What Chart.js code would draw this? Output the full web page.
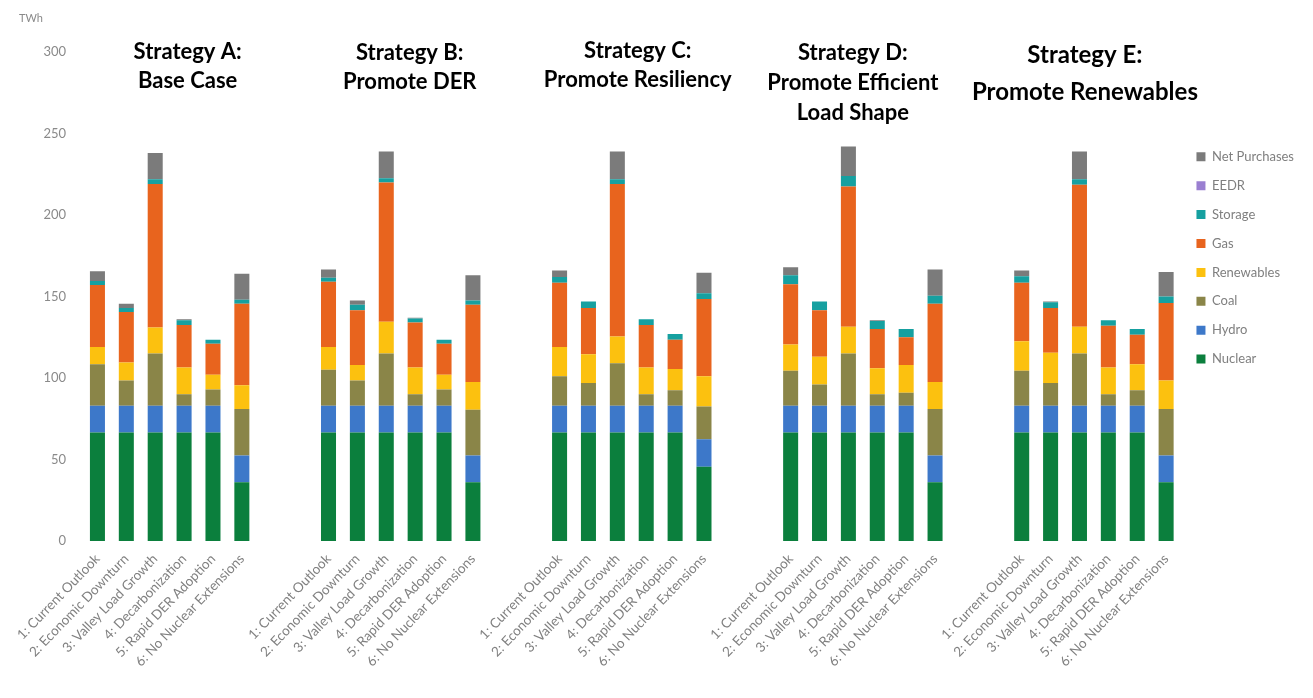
<!DOCTYPE html>
<html>
<head>
<meta charset="utf-8">
<script src="https://cdn.jsdelivr.net/npm/chart.js@4.4.1/dist/chart.umd.min.js"></script>
<style>
    html, body { margin: 0; padding: 0; background: #fff; }
    #wrap { position: relative; width: 1313px; height: 698px; }
</style>
</head>
<body>
<div id="wrap"><canvas id="genChart"></canvas></div>
<script>
// scenarios shown under every strategy
const scenarios = [
    '1: Current Outlook',
    '2: Economic Downturn',
    '3: Valley Load Growth',
    '4: Decarbonization',
    '5: Rapid DER Adoption',
    '6: No Nuclear Extensions'
];

const strategies = [
    ['Strategy A:', 'Base Case'],
    ['Strategy B:', 'Promote DER'],
    ['Strategy C:', 'Promote Resiliency'],
    ['Strategy D:', 'Promote Efficient', 'Load Shape'],
    ['Strategy E:', 'Promote Renewables']
];

const yTicks = [0, 50, 100, 150, 200, 250, 300];

// TWh per resource, 6 scenarios per strategy (A..E)
const nuclear = [
    66.5, 66.5, 66.5, 66.5, 66.5, 36,
    66.5, 66.5, 66.5, 66.5, 66.5, 36,
    66.5, 66.5, 66.5, 66.5, 66.5, 45.5,
    66.5, 66.5, 66.5, 66.5, 66.5, 36,
    66.5, 66.5, 66.5, 66.5, 66.5, 36
];
const hydro = [
    16.5, 16.5, 16.5, 16.5, 16.5, 16.5,
    16.5, 16.5, 16.5, 16.5, 16.5, 16.5,
    16.5, 16.5, 16.5, 16.5, 16.5, 17,
    16.5, 16.5, 16.5, 16.5, 16.5, 16.5,
    16.5, 16.5, 16.5, 16.5, 16.5, 16.5
];
const coal = [
    25.5, 15.5, 32, 7, 10, 28.5,
    22, 15.5, 32, 7, 10, 28,
    18, 14, 26, 7, 9.5, 20,
    21.5, 13, 32, 7, 8, 28.5,
    21.5, 14, 32, 7, 9.5, 28.5
];
const renewables = [
    10.5, 11, 16, 16.5, 9, 14.5,
    14, 9.5, 19.5, 16.5, 9, 17,
    18, 17.5, 16.5, 16.5, 13, 18.5,
    16, 17, 16.5, 16, 17, 16.5,
    18, 18.5, 16.5, 16.5, 16, 17.5
];
const gas = [
    38, 31, 88, 26, 19, 50,
    40, 33.5, 85.5, 27.5, 19, 47.5,
    39.5, 28.5, 93.5, 26, 18, 47.5,
    37, 28.5, 86, 24, 17, 48,
    36, 27.5, 87, 25.5, 18, 47.5
];
const storage = [
    2.5, 2.5, 3, 3, 2.5, 2.5,
    2.5, 3.5, 2.5, 2.5, 2.5, 2.5,
    3.5, 4, 3, 3.5, 3.5, 3.5,
    5.5, 5.5, 6.5, 5, 5, 5,
    4, 3.5, 3.5, 3.5, 3.5, 4
];
const eedr = [
    0, 0, 0, 0, 0, 0,
    0, 0, 0, 0, 0, 0,
    0, 0, 0, 0, 0, 0,
    0, 0, 0, 0, 0, 0,
    0, 0, 0, 0, 0, 0
];
const netPurchases = [
    6, 2.5, 16, 0.5, 0, 16,
    5, 2.5, 16.5, 0.5, 0, 15.5,
    4, 0, 17, 0, 0, 12.5,
    5, 0, 18, 0.5, 0, 16,
    3.5, 0.5, 17, 0, 0, 15
];

// two empty slots separate the strategy groups
const GAP = 2;

const labels = [];
strategies.forEach((s, g) => {
    if (g > 0) for (let k = 0; k < GAP; k++) labels.push('');
    scenarios.forEach(name => labels.push(name));
});

function spread(values) {
    const out = [];
    strategies.forEach((s, g) => {
        if (g > 0) for (let k = 0; k < GAP; k++) out.push(null);
        for (let i = 0; i < scenarios.length; i++) out.push(values[g * scenarios.length + i]);
    });
    return out;
}

const series = [
    { label: 'Nuclear', data: nuclear, color: '#0b7f3d' },
    { label: 'Hydro', data: hydro, color: '#3d78c9' },
    { label: 'Coal', data: coal, color: '#8a8548' },
    { label: 'Renewables', data: renewables, color: '#fcc10f' },
    { label: 'Gas', data: gas, color: '#e8641e' },
    { label: 'Storage', data: storage, color: '#16a0a0' },
    { label: 'EEDR', data: eedr, color: '#9a7fd1' },
    { label: 'Net Purchases', data: netPurchases, color: '#7b7b7b' }
];

const tickColor = '#8a8a8a';
const uiFont = 'Lato, "Open Sans", sans-serif';

// strategy headings over each group, plus the unit label
const titleStyle = [
    { size: 22, nudge: 18, lines: [59, 88] },
    { size: 22, nudge: 9, lines: [60, 89] },
    { size: 22, nudge: 6, lines: [58, 87] },
    { size: 22, nudge: -10, lines: [60, 90, 120] },
    { size: 24, nudge: -9, lines: [63, 100] }
];

const headings = {
    id: 'headings',
    afterDraw(chart) {
        const { ctx, scales: { x } } = chart;
        const per = scenarios.length + GAP;
        ctx.save();
        ctx.fillStyle = '#000';
        ctx.textAlign = 'center';
        ctx.textBaseline = 'alphabetic';
        strategies.forEach((lines, g) => {
            const st = titleStyle[g];
            const mid = (x.getPixelForValue(g * per) + x.getPixelForValue(g * per + scenarios.length - 1)) / 2;
            ctx.font = `bold ${st.size}px ${uiFont}`;
            lines.forEach((t, i) => ctx.fillText(t, mid + st.nudge, st.lines[i]));
        });
        ctx.font = `11px ${uiFont}`;
        ctx.fillStyle = tickColor;
        ctx.textAlign = 'left';
        ctx.fillText('TWh', 19, 22);
        ctx.restore();
    }
};

new Chart(document.getElementById('genChart'), {
    type: 'bar',
    data: {
        labels: labels,
        datasets: series.map(s => ({
            label: s.label,
            data: spread(s.data),
            backgroundColor: s.color,
            borderWidth: 0,
            categoryPercentage: 1,
            barPercentage: 0.52
        }))
    },
    options: {
        responsive: true,
        maintainAspectRatio: false,
        animation: false,
        layout: {
            padding: { top: 52, right: 9, bottom: 0, left: 0 }
        },
        plugins: {
            legend: {
                position: 'right',
                align: 'start',
                reverse: true,
                title: {
                    display: true,
                    text: '',
                    font: { size: 12 },
                    padding: { top: 68, bottom: 0 }
                },
                labels: {
                    boxWidth: 9,
                    boxHeight: 9,
                    padding: 15.9,
                    color: '#7f7f7f',
                    font: { family: uiFont, size: 13 }
                }
            },
            tooltip: { enabled: false }
        },
        scales: {
            x: {
                stacked: true,
                grid: { display: false, drawTicks: false },
                border: { display: false },
                ticks: {
                    autoSkip: false,
                    maxRotation: 46,
                    minRotation: 46,
                    padding: 10,
                    color: '#808080',
                    font: { family: uiFont, size: 13.5 }
                },
                afterFit: (scale) => { scale.height = 157; }
            },
            y: {
                stacked: true,
                min: 0,
                max: 300,
                afterBuildTicks: (scale) => { scale.ticks = yTicks.map(v => ({ value: v })); },
                grid: { display: false, drawTicks: false },
                border: { display: false },
                ticks: {
                    padding: 17,
                    color: tickColor,
                    font: { family: uiFont, size: 13 }
                },
                afterFit: (scale) => { scale.width = 83; }
            }
        }
    },
    plugins: [headings]
});
</script>
</body>
</html>
